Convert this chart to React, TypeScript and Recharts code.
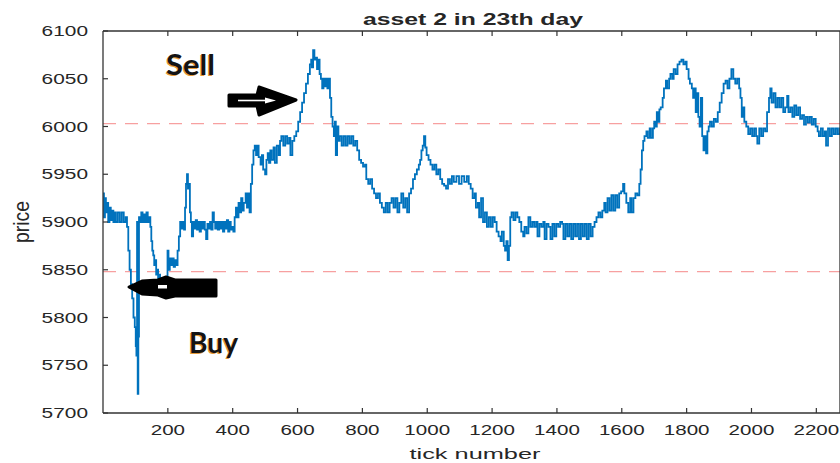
import React from "react";
import {
  LineChart,
  Line,
  XAxis,
  YAxis,
  ReferenceLine,
} from "recharts";

const BLUE = "#0072BD";
const AXIS = "#333333";
const LABEL = "#262626";
const DASH = "#f7a0a0";
const FONT = "'Liberation Sans', Arial, sans-serif";

// tick number (x) and price (y)
const tickNumbers = [
  0, 3, 6, 9, 12, 16, 20, 24, 28, 32, 36, 40, 46, 52, 58, 64, 70, 74, 78, 82,
  86, 90, 94, 98, 101, 103, 105, 107, 109, 111, 115, 118, 122, 126, 130, 134,
  138, 142, 146, 149, 152, 155, 158, 161, 164, 167, 170, 173, 176, 180, 184,
  188, 192, 196, 199, 202, 206, 210, 214, 218, 222, 226, 230, 234, 238, 242,
  246, 250, 253, 256, 259, 262, 265, 268, 271, 274, 278, 282, 286, 290, 294,
  298, 302, 306, 310, 314, 318, 322, 326, 330, 334, 338, 342, 346, 350, 354,
  358, 362, 366, 370, 374, 378, 382, 386, 390, 394, 398, 402, 406, 410, 414,
  418, 422, 426, 430, 434, 440, 444, 448, 452, 456, 460, 464, 468, 472, 476,
  480, 486, 490, 494, 500, 504, 508, 512, 516, 520, 526, 530, 536, 542, 546,
  550, 556, 562, 568, 574, 578, 584, 590, 596, 602, 608, 614, 620, 626, 632,
  638, 642, 644, 648, 652, 656, 660, 664, 668, 672, 676, 680, 684, 688, 692,
  696, 700, 704, 708, 712, 715, 718, 722, 726, 730, 736, 742, 748, 754, 760,
  766, 772, 778, 784, 790, 796, 802, 808, 812, 818, 824, 830, 836, 842, 848,
  854, 860, 866, 872, 878, 884, 890, 896, 902, 908, 914, 920, 926, 932, 938,
  944, 950, 956, 962, 968, 974, 978, 982, 986, 990, 994, 998, 1004, 1010, 1016,
  1022, 1028, 1034, 1040, 1046, 1052, 1058, 1064, 1070, 1076, 1082, 1090, 1098,
  1106, 1114, 1122, 1128, 1134, 1140, 1146, 1150, 1156, 1160, 1166, 1172, 1178,
  1184, 1190, 1196, 1202, 1208, 1214, 1220, 1226, 1230, 1236, 1240, 1244, 1248,
  1252, 1256, 1260, 1266, 1272, 1278, 1284, 1290, 1296, 1300, 1306, 1312, 1318,
  1324, 1330, 1336, 1340, 1346, 1352, 1358, 1362, 1368, 1374, 1380, 1386, 1392,
  1398, 1404, 1410, 1416, 1420, 1426, 1432, 1438, 1444, 1450, 1456, 1462, 1468,
  1474, 1480, 1486, 1492, 1498, 1504, 1510, 1516, 1522, 1528, 1534, 1540, 1546,
  1550, 1556, 1562, 1568, 1574, 1580, 1586, 1592, 1598, 1604, 1608, 1614, 1620,
  1626, 1630, 1636, 1642, 1648, 1654, 1658, 1662, 1666, 1670, 1676, 1680, 1686,
  1690, 1696, 1700, 1704, 1708, 1712, 1716, 1720, 1726, 1730, 1736, 1740, 1746,
  1750, 1756, 1760, 1766, 1772, 1778, 1784, 1790, 1796, 1800, 1806, 1810, 1816,
  1820, 1824, 1828, 1832, 1836, 1840, 1844, 1848, 1852, 1856, 1860, 1864, 1868,
  1872, 1878, 1884, 1890, 1896, 1902, 1908, 1914, 1920, 1926, 1932, 1938, 1944,
  1950, 1956, 1962, 1966, 1970, 1974, 1978, 1984, 1990, 1996, 2002, 2008, 2014,
  2018, 2024, 2030, 2036, 2042, 2048, 2054, 2058, 2062, 2068, 2074, 2080, 2086,
  2092, 2098, 2104, 2110, 2114, 2120, 2126, 2132, 2138, 2144, 2150, 2156, 2162,
  2168, 2174, 2180, 2186, 2192, 2198, 2204, 2208, 2214, 2220, 2226, 2230, 2236,
  2242, 2248, 2254, 2260, 2266, 2272, 2280,
];

const prices = [
  5930, 5905, 5925, 5910, 5920, 5900, 5915, 5902, 5912, 5900, 5910, 5900, 5910,
  5900, 5910, 5900, 5905, 5895, 5870, 5850, 5835, 5820, 5800, 5790, 5770, 5760,
  5900, 5720, 5780, 5905, 5900, 5910, 5900, 5908, 5900, 5910, 5900, 5905, 5895,
  5880, 5870, 5865, 5855, 5860, 5845, 5850, 5840, 5845, 5832, 5840, 5825, 5835,
  5822, 5830, 5870, 5850, 5862, 5855, 5862, 5853, 5860, 5855, 5870, 5885, 5900,
  5893, 5900, 5892, 5915, 5940, 5950, 5935, 5940, 5910, 5900, 5885, 5900, 5893,
  5902, 5892, 5900, 5890, 5900, 5893, 5900, 5892, 5882, 5898, 5893, 5900, 5892,
  5910, 5900, 5893, 5900, 5892, 5900, 5893, 5900, 5890, 5900, 5893, 5902, 5890,
  5900, 5892, 5895, 5890, 5905, 5915, 5905, 5920, 5910, 5925, 5912, 5920, 5930,
  5915, 5930, 5910, 5940, 5960, 5975, 5980, 5970, 5980, 5968, 5960, 5970, 5955,
  5950, 5965, 5972, 5962, 5975, 5965, 5978, 5962, 5980, 5970, 5985, 5990, 5980,
  5990, 5982, 5988, 5970, 5985, 5990, 5995, 6005, 6015, 6025, 6035, 6045, 6055,
  6065, 6070, 6062, 6080, 6070, 6072, 6060, 6070, 6055, 6050, 6040, 6050, 6042,
  6050, 6040, 6050, 6030, 6010, 6000, 5990, 6005, 5970, 6000, 5985, 5990, 5980,
  5990, 5980, 5990, 5982, 5990, 5980, 5985, 5975, 5965, 5962, 5958, 5960, 5945,
  5940, 5945, 5935, 5930, 5925, 5930, 5920, 5915, 5910, 5920, 5910, 5920, 5925,
  5915, 5925, 5910, 5920, 5930, 5915, 5925, 5910, 5930, 5935, 5945, 5950, 5955,
  5960, 5965, 5975, 5980, 5990, 5978, 5970, 5965, 5960, 5955, 5960, 5950, 5955,
  5945, 5940, 5938, 5935, 5945, 5940, 5948, 5942, 5948, 5940, 5948, 5942, 5948,
  5940, 5935, 5925, 5930, 5915, 5920, 5905, 5925, 5900, 5910, 5895, 5905, 5895,
  5905, 5900, 5890, 5885, 5880, 5890, 5875, 5870, 5880, 5860, 5875, 5905, 5910,
  5902, 5910, 5905, 5900, 5890, 5885, 5895, 5888, 5905, 5895, 5900, 5895, 5900,
  5885, 5898, 5895, 5900, 5882, 5898, 5895, 5882, 5898, 5885, 5898, 5895, 5900,
  5898, 5882, 5898, 5885, 5898, 5882, 5898, 5885, 5898, 5882, 5898, 5885, 5898,
  5882, 5898, 5885, 5895, 5900, 5905, 5910, 5905, 5912, 5920, 5910, 5925, 5912,
  5928, 5912, 5928, 5915, 5930, 5932, 5940, 5930, 5920, 5910, 5925, 5910, 5925,
  5930, 5928, 5940, 5955, 5975, 5985, 5990, 5995, 5988, 5998, 5988, 5998, 6005,
  6000, 6015, 6005, 6018, 6020, 6030, 6040, 6048, 6040, 6050, 6055, 6050, 6060,
  6055, 6065, 6068, 6070, 6065, 6068, 6060, 6050, 6045, 6040, 6030, 6040, 6015,
  6035, 6010, 6000, 6030, 5990, 5975, 5990, 5972, 5995, 6000, 6005, 6000, 6008,
  6005, 6015, 6025, 6035, 6045, 6048, 6040, 6050, 6060, 6050, 6045, 6050, 6040,
  6030, 6010, 6020, 6005, 6000, 5992, 5998, 5990, 5998, 5990, 5982, 5998, 5990,
  5998, 5995, 6015, 6030, 6040, 6025, 6035, 6020, 6030, 6020, 6030, 6015, 6020,
  6032, 6015, 6020, 6010, 6022, 6012, 6020, 6008, 6012, 6002, 6010, 6004, 6010,
  6002, 6008, 6000, 5995, 5990, 5998, 5990, 5995, 5980, 5998, 5990, 5998, 5992,
  5998, 5992, 5998, 5992,
];

const xTicks = [200, 400, 600, 800, 1000, 1200, 1400, 1600, 1800, 2000, 2200];
const yTicks = [5700, 5750, 5800, 5850, 5900, 5950, 6000, 6050, 6100];
const thresholds = [6003, 5848];

const rows = tickNumbers.map((t, i) => ({ tick: t, price: prices[i] }));

// MATLAB-style ticks: inward marks, wide-ish labels
function BottomTick({ x, y, payload }: any) {
  return (
    <g>
      <line x1={x} y1={y} x2={x} y2={y - 5} stroke={AXIS} strokeWidth={1.2} />
      <g transform={`translate(${x},${y + 21.5}) scale(1.42,1)`}>
        <text textAnchor="middle" fontFamily={FONT} fontSize={14.5} fill={LABEL}>
          {payload.value}
        </text>
      </g>
    </g>
  );
}

function LeftTick({ x, y, payload }: any) {
  return (
    <g>
      <line x1={x} y1={y} x2={x + 5} y2={y} stroke={AXIS} strokeWidth={1.2} />
      <g transform={`translate(${x - 15},${y + 5.2}) scale(1.44,1)`}>
        <text textAnchor="end" fontFamily={FONT} fontSize={14.5} fill={LABEL}>
          {payload.value}
        </text>
      </g>
    </g>
  );
}

function TopTick({ x, y }: any) {
  return <line x1={x} y1={y} x2={x} y2={y + 5} stroke={AXIS} strokeWidth={1.2} />;
}

function RightTick({ x, y }: any) {
  return <line x1={x} y1={y} x2={x - 5} y2={y} stroke={AXIS} strokeWidth={1.2} />;
}

function Note({ x, y, children }: { x: number; y: number; children: string }) {
  return (
    <g fontFamily="Lato, 'Open Sans', sans-serif" fontWeight="bold" fontSize={29}>
      <text x={x - 1} y={y + 0.5} fill="#e39a3a" textLength={49} lengthAdjust="spacingAndGlyphs">
        {children}
      </text>
      <text x={x} y={y} fill="#141414" textLength={49} lengthAdjust="spacingAndGlyphs">
        {children}
      </text>
    </g>
  );
}

export default function App() {
  return (
    <div
      style={{
        position: "absolute",
        left: 0,
        top: 0,
        width: 840,
        height: 463,
        overflow: "hidden",
        background: "#fff",
      }}
    >
      <LineChart
        width={845}
        height={463}
        data={rows}
        margin={{ top: 30, right: 0, bottom: 0, left: 0 }}
      >
        <XAxis
          xAxisId="bottom"
          dataKey="tick"
          type="number"
          domain={[0, 2273]}
          allowDataOverflow
          ticks={xTicks}
          height={50}
          tickSize={0}
          tickMargin={0}
          tick={(p: any) => <BottomTick {...p} />}
          axisLine={{ stroke: AXIS, strokeWidth: 1.3 }}
          tickLine={false}
        />
        <XAxis
          xAxisId="top"
          orientation="top"
          dataKey="tick"
          type="number"
          domain={[0, 2273]}
          allowDataOverflow
          ticks={xTicks}
          height={1}
          tickSize={0}
          tickMargin={0}
          tick={(p: any) => <TopTick {...p} />}
          axisLine={{ stroke: AXIS, strokeWidth: 1.3 }}
          tickLine={false}
        />
        <YAxis
          yAxisId="left"
          type="number"
          domain={[5700, 6100]}
          allowDataOverflow
          ticks={yTicks}
          width={103}
          tickSize={0}
          tickMargin={0}
          tick={(p: any) => <LeftTick {...p} />}
          axisLine={{ stroke: AXIS, strokeWidth: 1.3 }}
          tickLine={false}
        />
        <YAxis
          yAxisId="right"
          orientation="right"
          type="number"
          domain={[5700, 6100]}
          ticks={yTicks}
          width={5}
          tickSize={0}
          tickMargin={0}
          tick={(p: any) => <RightTick {...p} />}
          axisLine={{ stroke: AXIS, strokeWidth: 1.3 }}
          tickLine={false}
        />
        {thresholds.map((v) => (
          <ReferenceLine
            key={v}
            xAxisId="bottom"
            yAxisId="left"
            y={v}
            stroke={DASH}
            strokeWidth={1.2}
            strokeDasharray="13 9"
          />
        ))}
        <Line
          xAxisId="bottom"
          yAxisId="left"
          type="stepAfter"
          dataKey="price"
          stroke={BLUE}
          strokeWidth={1.8}
          dot={false}
          isAnimationActive={false}
        />
      </LineChart>

      <svg
        width={840}
        height={463}
        style={{ position: "absolute", left: 0, top: 0, pointerEvents: "none" }}
      >
        <text
          x={473}
          y={25}
          textAnchor="middle"
          fontFamily={FONT}
          fontWeight="bold"
          fontSize={16}
          fill={LABEL}
          textLength={220}
          lengthAdjust="spacingAndGlyphs"
        >
          asset 2 in 23th day
        </text>
        <text
          x={475}
          y={459}
          textAnchor="middle"
          fontFamily={FONT}
          fontSize={15.5}
          fill={LABEL}
          textLength={131}
          lengthAdjust="spacingAndGlyphs"
        >
          tick number
        </text>
        <g transform="translate(29,222) scale(1.45,1) rotate(-90)">
          <text
            textAnchor="middle"
            fontFamily={FONT}
            fontSize={15}
            fill={LABEL}
            textLength={42}
            lengthAdjust="spacingAndGlyphs"
          >
            price
          </text>
        </g>

        <Note x={166} y={75}>Sell</Note>
        <Note x={189} y={353}>Buy</Note>

        {/* sell arrow, pointing right */}
        <path
          d="M229,95 L257,95 L259,87 L296,100 L259,115 L257,106 L229,106 Z"
          fill="#000"
          stroke="#000"
          strokeWidth={3}
          strokeLinejoin="round"
        />
        <line x1={238} y1={100.5} x2={268} y2={100.5} stroke="#fff" strokeWidth={1.6} />
        <path d="M265,97.5 L276,100.5 L265,103.5 Z" fill="#fff" />

        {/* buy arrow, pointing left */}
        <path
          d="M129,287 L142,281 L158,280 L166,277 L175,280 L216,280 L216,296 L175,296 L166,298 L158,295 L142,294 Z"
          fill="#000"
          stroke="#000"
          strokeWidth={3}
          strokeLinejoin="round"
        />
        <rect x={158} y={285} width={9} height={3.5} fill="#fff" />
      </svg>
    </div>
  );
}
